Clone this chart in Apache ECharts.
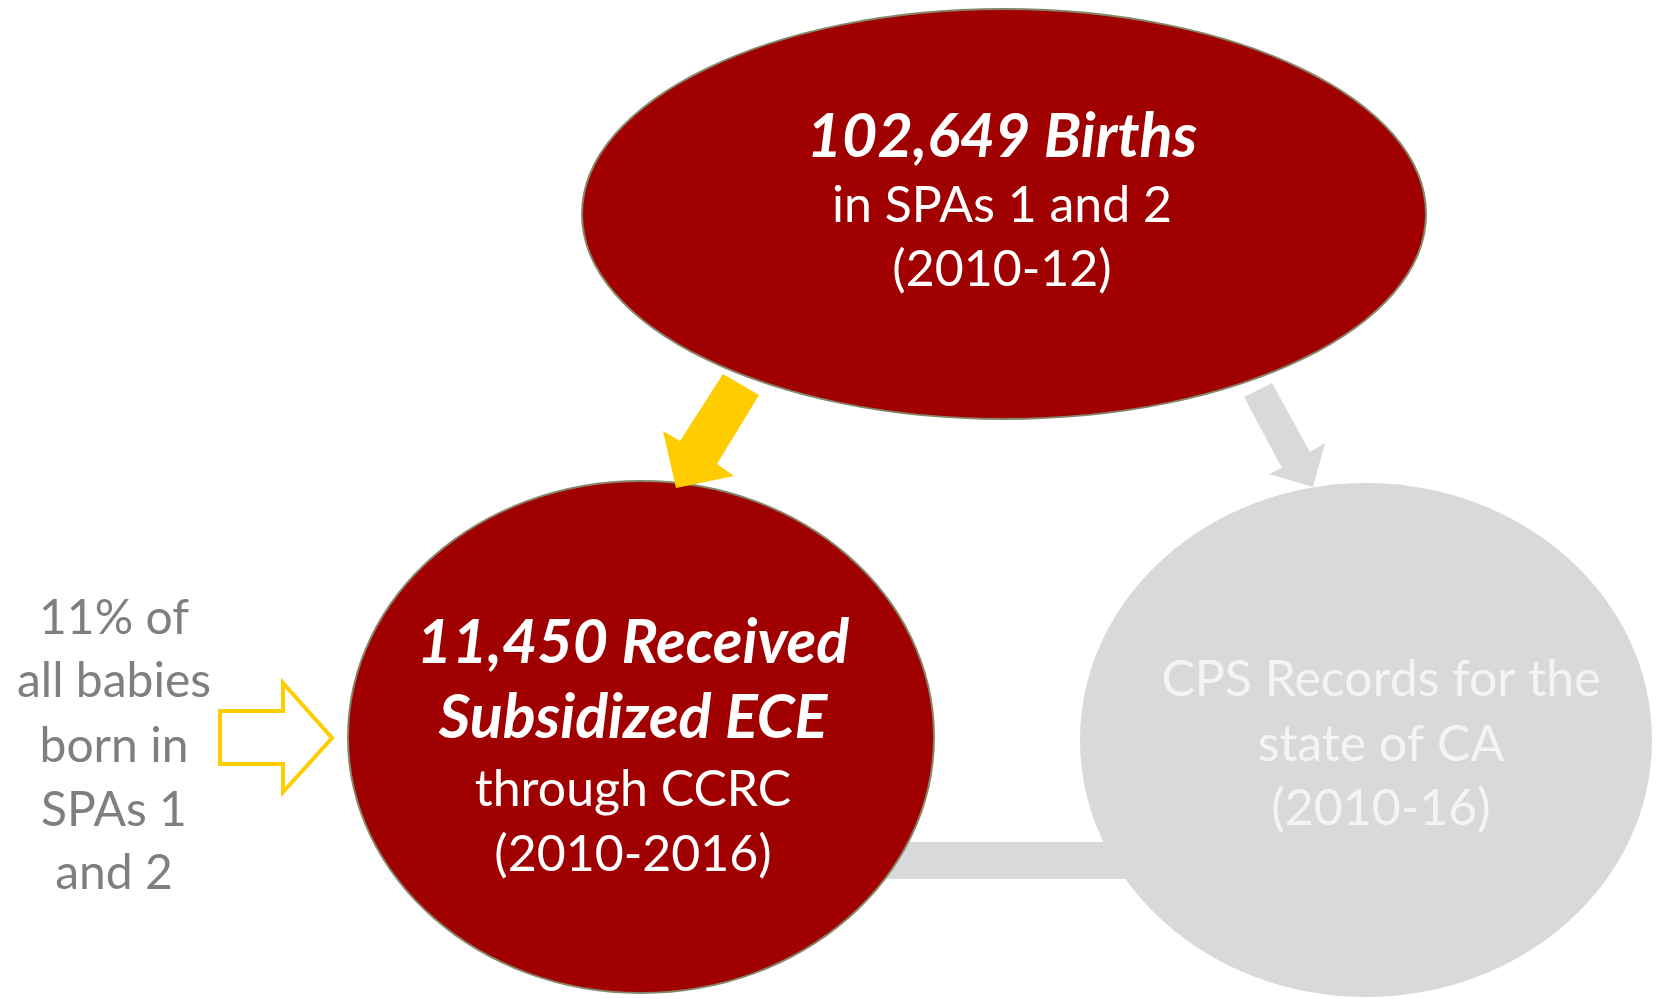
<!DOCTYPE html>
<html>
<head>
<meta charset="utf-8">
<title>Births to subsidized ECE</title>
<script src="https://cdn.jsdelivr.net/npm/echarts@6/dist/echarts.min.js"></script>
<style>
  html, body { margin: 0; padding: 0; background: #fff; }
  #flowChart { width: 1673px; height: 999px; }
</style>
</head>
<body>
<div id="flowChart"></div>
<script>
// texts of the diagram
const birthLines = ['102,649 Births', 'in SPAs 1 and 2', '(2010-12)']
const eceLines = ['11,450 Received', 'Subsidized ECE', 'through CCRC', '(2010-2016)']
const cpsLines = ['CPS Records for the', 'state of CA', '(2010-16)']
const noteLines = ['11% of', 'all babies', 'born in', 'SPAs 1', 'and 2']

const RED = '#a00000'
const EDGE = '#85856a'
const GRAY = '#d9d9d9'
const YELLOW = '#ffcc00'
const FONT = 'Lato, "Open Sans", sans-serif'

// a column of centered text lines
function textBlock (lines, cx, ys, styles, color) {
  return lines.map(function (t, i) {
    const s = styles[i] || styles[styles.length - 1]
    return {
      type: 'text',
      z: 20,
      style: {
        text: t,
        x: cx,
        y: ys[i],
        fill: color,
        font: s,
        textAlign: 'center',
        textVerticalAlign: 'middle'
      }
    }
  })
}

const bold = 'italic bold 61px ' + FONT
const plain = 'normal 50px ' + FONT

let myChart = echarts.init(document.getElementById('flowChart'))
myChart.setOption({
  backgroundColor: '#fff',
  graphic: [].concat(
    [
      // connector bar between the two lower ellipses
      { type: 'rect', z: 1, shape: { x: 880, y: 842, width: 260, height: 37 }, style: { fill: GRAY } },
      // top ellipse
      { type: 'ellipse', z: 5, shape: { cx: 1004, cy: 214, rx: 422, ry: 205 }, style: { fill: RED, stroke: EDGE, lineWidth: 2 } },
      // left ellipse
      { type: 'ellipse', z: 5, shape: { cx: 641, cy: 737, rx: 293, ry: 256 }, style: { fill: RED, stroke: EDGE, lineWidth: 2 } },
      // right ellipse
      { type: 'ellipse', z: 5, shape: { cx: 1366, cy: 740, rx: 286, ry: 257 }, style: { fill: GRAY } },
      // yellow arrow
      {
        type: 'polygon',
        z: 10,
        shape: { points: [[723, 374], [759, 395], [717, 464], [734, 476], [676, 488], [663, 431], [680, 441]] },
        style: { fill: YELLOW }
      },
      // gray arrow
      {
        type: 'polygon',
        z: 10,
        shape: { points: [[1244, 397], [1272, 383], [1310, 452], [1325, 443], [1313, 487], [1269, 474], [1282, 468]] },
        style: { fill: GRAY }
      },
      // hollow arrow
      {
        type: 'polygon',
        z: 10,
        shape: { points: [[220, 711], [283, 711], [283, 683], [332, 738], [283, 792], [283, 764], [220, 764]] },
        style: { fill: '#fff', stroke: YELLOW, lineWidth: 4 }
      }
    ],
    textBlock(birthLines, 1002, [137, 206, 270], [bold, plain, plain], '#fff'),
    textBlock(eceLines, 633, [643, 718, 790, 855], [bold, bold, plain, plain], '#fff'),
    textBlock(cpsLines, 1381, [680, 745, 809], [plain], '#f4f4f4'),
    textBlock(noteLines, 114, [619, 682, 747, 811, 874], ['normal 48px ' + FONT], '#7f7f7f')
  )
})
</script>
</body>
</html>
